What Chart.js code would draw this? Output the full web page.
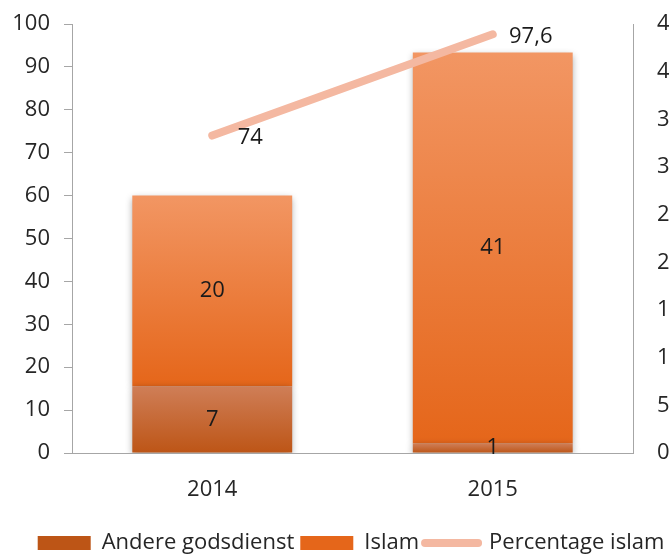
<!DOCTYPE html>
<html><head><meta charset="utf-8">
<script src="https://cdn.jsdelivr.net/npm/chart.js@4"></script>
<style>html,body{margin:0;padding:0;overflow:hidden;background:#fff}#wrap{width:702px;height:556px;position:relative}</style>
</head><body><div id="wrap"><canvas id="c"></canvas></div>
<script>
const categories = ['2014', '2015'];
const andereGodsdienst = [7, 1];
const islam = [20, 41];
const percentageIslam = [74, 97.6];
const leftAxisMax = 100;
const leftAxisStep = 10;
const rightAxisMax = 45;
const rightAxisStep = 5;
const seriesNames = ['Andere godsdienst', 'Islam', 'Percentage islam'];

const FONT = '"Open Sans", "DejaVu Sans", sans-serif';
const FS = 22;
const TEXT = '#262626';
const AXIS = '#a6a6a6';
const andereCols = ['#cf7e57', '#bd5516'];
const islamCols = ['#f29663', '#e5661a'];
const lineCol = '#f4b8a1';

function fmt(v){ return String(v).replace('.', ','); }

function gradFill(cols, lowFn, highFn){
  return function(c){
    const chart = c.chart;
    if (!chart.chartArea || c.type !== 'data' || !chart.scales.y1) return cols[1];
    const s = chart.scales.y1;
    const i = c.dataIndex;
    const yTop = s.getPixelForValue(highFn(i));
    const yBot = s.getPixelForValue(lowFn(i));
    const g = chart.ctx.createLinearGradient(0, yTop, 0, yBot);
    g.addColorStop(0, cols[0]);
    g.addColorStop(1, cols[1]);
    return g;
  };
}

const shadowPlugin = {
  id: 'barShadow',
  beforeDatasetDraw(chart, args){
    if (args.meta.type === 'bar'){
      const ctx = chart.ctx; ctx.save();
      ctx.shadowColor = 'rgba(0,0,0,0.35)'; ctx.shadowBlur = 7; ctx.shadowOffsetX = 0; ctx.shadowOffsetY = 2;
    }
  },
  afterDatasetDraw(chart, args){
    if (args.meta.type === 'bar') chart.ctx.restore();
  }
};

const legendShift = {
  id: 'legendShift',
  afterLayout(chart){
    const lg = chart.legend;
    if (lg) {
      const d = 8;
      lg.top += d; lg.bottom += d;
      (lg.legendHitBoxes || []).forEach(h => { h.top += d; });
    }
  }
};

const labelPlugin = {
  id: 'valueLabels',
  afterDatasetsDraw(chart){
    const ctx = chart.ctx;
    ctx.save();
    ctx.font = FS + 'px ' + FONT;
    ctx.fillStyle = '#1a1a1a';
    ctx.textAlign = 'center';
    ctx.textBaseline = 'middle';
    chart.data.datasets.forEach((ds, di) => {
      const meta = chart.getDatasetMeta(di);
      meta.data.forEach((el, i) => {
        const v = ds.data[i];
        if (meta.type === 'bar') {
          ctx.fillText(fmt(v), el.x, (el.y + el.base) / 2);
        } else {
          ctx.fillText(fmt(v), el.x + 38, el.y + 2);
        }
      });
    });
    ctx.restore();
  }
};

function noVPad(s){ s.paddingTop = 0; s.paddingBottom = 0; }

new Chart(document.getElementById('c'), {
  data: {
    labels: categories,
    datasets: [
      { type: 'bar', label: seriesNames[0], data: andereGodsdienst, yAxisID: 'y1', order: 1,
        backgroundColor: gradFill(andereCols, i => 0, i => andereGodsdienst[i]),
        barPercentage: 0.57, categoryPercentage: 1 },
      { type: 'bar', label: seriesNames[1], data: islam, yAxisID: 'y1', order: 1,
        backgroundColor: gradFill(islamCols, i => andereGodsdienst[i], i => andereGodsdienst[i] + islam[i]),
        barPercentage: 0.57, categoryPercentage: 1 },
      { type: 'line', label: seriesNames[2], data: percentageIslam, yAxisID: 'y', order: 0,
        borderColor: lineCol, borderWidth: 8, borderCapStyle: 'round', pointRadius: 0, pointHoverRadius: 0, fill: false, tension: 0 }
    ]
  },
  options: {
    responsive: true, maintainAspectRatio: false, animation: false,
    layout: { padding: { top: 24, left: 0, right: 0, bottom: 0 } },
    plugins: {
      tooltip: { enabled: false },
      legend: {
        position: 'bottom',
        labels: {
          usePointStyle: true, pointStyleWidth: 53, boxHeight: 14, padding: 6,
          color: TEXT, font: { family: FONT, size: FS },
          generateLabels(){
            return [
              { text: seriesNames[0], fillStyle: andereCols[1], strokeStyle: andereCols[1], lineWidth: 0, pointStyle: 'rect', datasetIndex: 0, fontColor: TEXT },
              { text: seriesNames[1], fillStyle: islamCols[1], strokeStyle: islamCols[1], lineWidth: 0, pointStyle: 'rect', datasetIndex: 1, fontColor: TEXT },
              { text: seriesNames[2], fillStyle: lineCol, strokeStyle: lineCol, lineWidth: 8, lineCap: 'round', pointStyle: 'line', datasetIndex: 2, fontColor: TEXT }
            ];
          }
        }
      }
    },
    scales: {
      x: {
        stacked: true,
        grid: { display: false, drawTicks: false },
        border: { display: true, color: AXIS, width: 1 },
        ticks: { color: TEXT, font: { family: FONT, size: FS }, padding: 24 },
        afterFit(s){ s.height = 65; }
      },
      y: {
        position: 'left', min: 0, max: leftAxisMax,
        grid: { drawOnChartArea: false, drawTicks: true, tickLength: 8, color: AXIS },
        border: { display: true, color: AXIS, width: 1 },
        ticks: { stepSize: leftAxisStep, color: TEXT, font: { family: FONT, size: FS }, padding: 14 },
        afterFit(s){ s.width = 72; noVPad(s); }
      },
      y1: {
        position: 'right', stacked: true, min: 0, max: rightAxisMax,
        grid: { drawOnChartArea: false, drawTicks: false },
        border: { display: true, color: AXIS, width: 1 },
        ticks: { stepSize: rightAxisStep, color: TEXT, font: { family: FONT, size: FS }, padding: 24 },
        afterFit(s){ s.width = 69; noVPad(s); }
      }
    }
  },
  plugins: [shadowPlugin, legendShift, labelPlugin]
});
</script>
</body></html>
